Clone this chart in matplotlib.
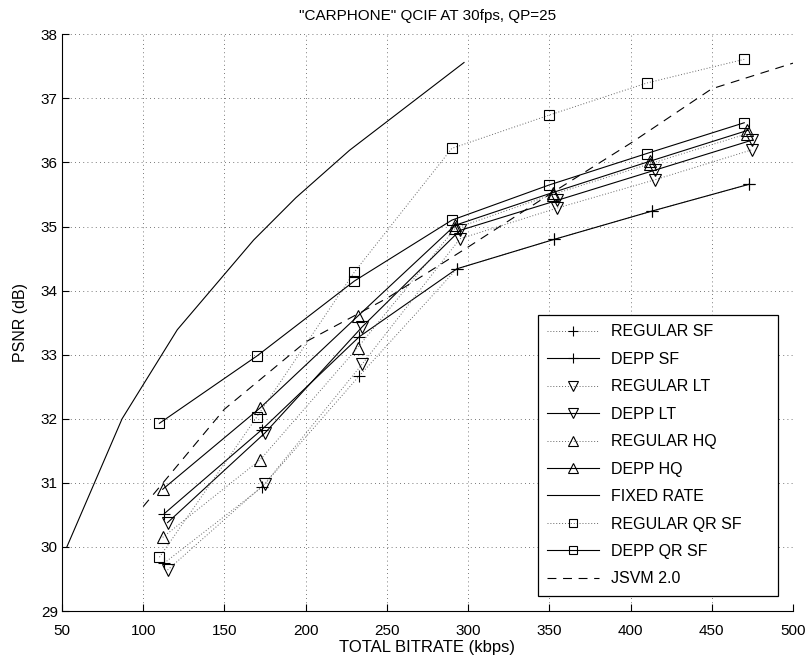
import numpy as np
import matplotlib
matplotlib.use("Agg")
import matplotlib.pyplot as plt

plt.rcParams['font.family'] = ['Liberation Sans', 'DejaVu Sans']

# --------------------------------------------------------------------------------
# Rate-distortion curves, "CARPHONE" QCIF @ 30 fps
# --------------------------------------------------------------------------------

rate_sf = [113, 173, 233, 293, 353, 413, 473]
psnr_regular_sf = [29.75, 30.93, 32.67, 34.34, 34.80, 35.24, 35.66]
psnr_depp_sf = [30.52, 31.83, 33.28, 34.34, 34.80, 35.24, 35.66]

rate_lt = [115, 175, 235, 295, 355, 415, 475]
psnr_regular_lt = [29.64, 30.99, 32.86, 34.81, 35.29, 35.73, 36.20]
psnr_depp_lt = [30.38, 31.78, 33.44, 34.94, 35.41, 35.88, 36.35]

rate_hq = [112, 172, 232, 292, 352, 412, 472]
psnr_regular_hq = [30.15, 31.36, 33.11, 34.97, 35.50, 35.98, 36.45]
psnr_depp_hq = [30.90, 32.17, 33.60, 35.02, 35.53, 36.02, 36.50]

rate_fixed = [53, 87, 121, 168, 194, 227, 297.5]
psnr_fixed = [30.00, 32.00, 33.39, 34.79, 35.45, 36.19, 37.56]

rate_qr = [110, 170, 230, 290, 350, 410, 470]
psnr_regular_qr = [29.84, 32.03, 34.29, 36.22, 36.74, 37.24, 37.61]
psnr_depp_qr = [31.93, 32.98, 34.15, 35.10, 35.65, 36.14, 36.62]

rate_jsvm = [100, 150, 200, 250, 300, 350, 400, 450, 500]
psnr_jsvm = [30.63, 32.15, 33.20, 33.88, 34.68, 35.50, 36.30, 37.15, 37.55]

# --------------------------------------------------------------------------------

fig = plt.figure(figsize = (8.09, 6.6), dpi = 100)
ax = fig.add_axes([0.0766, 0.0742, 0.9036, 0.8738])

dot = dict(color = '0.4', linestyle = (0, (1, 2)), linewidth = 0.7)
sol = dict(color = 'black', linestyle = '-', linewidth = 0.8)
mk = dict(markersize = 8, markerfacecolor = 'none', markeredgewidth = 0.8, markeredgecolor = 'black')
mk_sq = dict(mk, markersize = 7)

ax.plot(rate_sf, psnr_regular_sf, marker = '+', label = 'REGULAR SF', **dot, **mk)
ax.plot(rate_sf, psnr_depp_sf, marker = '+', label = 'DEPP SF', **sol, **mk)
ax.plot(rate_lt, psnr_regular_lt, marker = 'v', label = 'REGULAR LT', **dot, **mk)
ax.plot(rate_lt, psnr_depp_lt, marker = 'v', label = 'DEPP LT', **sol, **mk)
ax.plot(rate_hq, psnr_regular_hq, marker = '^', label = 'REGULAR HQ', **dot, **mk)
ax.plot(rate_hq, psnr_depp_hq, marker = '^', label = 'DEPP HQ', **sol, **mk)
ax.plot(rate_fixed, psnr_fixed, label = 'FIXED RATE', **sol)
ax.plot(rate_qr, psnr_regular_qr, marker = 's', label = 'REGULAR QR SF', **dot, **mk_sq)
ax.plot(rate_qr, psnr_depp_qr, marker = 's', label = 'DEPP QR SF', **sol, **mk_sq)
ax.plot(rate_jsvm, psnr_jsvm, color = 'black', linewidth = 0.8, dashes = (8, 6), label = 'JSVM 2.0')

ax.set_xlim(50, 500)
ax.set_ylim(29, 38)
ax.set_xticks(np.arange(50, 501, 50))
ax.set_yticks(np.arange(29, 39, 1))
ax.grid(True, color = '0.3', linestyle = (0, (1, 4)), linewidth = 0.6)
ax.tick_params(direction = 'in', length = 5, labelsize = 11, top = False, right = False)
ax.tick_params(axis = 'x', pad = 9)
ax.tick_params(axis = 'y', pad = 3)
ax.spines['top'].set_visible(False)
ax.spines['right'].set_visible(False)

ax.set_title('"CARPHONE" QCIF AT 30fps, QP=25', fontsize = 11, pad = 10)
ax.set_xlabel('TOTAL BITRATE (kbps)', fontsize = 12, labelpad = 2)
ax.set_ylabel('PSNR (dB)', fontsize = 11.5, labelpad = 9)

# legend box spans a fixed region in the lower right corner
leg = ax.legend(loc = 'lower left', bbox_to_anchor = (0.651, 0.026, 0.3283, 0.49), mode = 'expand',
                fontsize = 11.5, frameon = True, fancybox = False,
                edgecolor = 'black', framealpha = 1, handlelength = 3.25, markerscale = 0.9,
                borderaxespad = 0, labelspacing = 0.78, borderpad = 0.6, handletextpad = 0.75)
leg.get_frame().set_linewidth(0.9)

fig.savefig('out.png', dpi = 100)
plt.close(fig)
